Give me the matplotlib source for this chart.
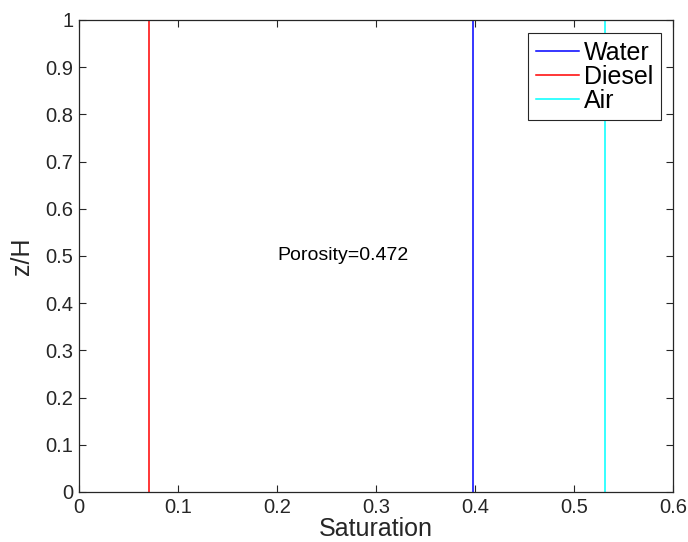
import numpy as np
import matplotlib
matplotlib.use("Agg")
import matplotlib.pyplot as plt

plt.rcParams['font.family'] = ['Liberation Sans', 'DejaVu Sans']

# vertical saturation profiles (constant over depth)
z = [0.0, 1.0]
names = ['Water', 'Diesel', 'Air']
sat = [0.398, 0.071, 0.531]
colors = ['#0000ff', '#ff0000', '#00ffff']
porosity = 0.472

xticks = [0, 0.1, 0.2, 0.3, 0.4, 0.5, 0.6]
xlabels = ['0', '0.1', '0.2', '0.3', '0.4', '0.5', '0.6']
yticks = [0, 0.1, 0.2, 0.3, 0.4, 0.5, 0.6, 0.7, 0.8, 0.9, 1]
ylabels = ['0', '0.1', '0.2', '0.3', '0.4', '0.5', '0.6', '0.7', '0.8', '0.9', '1']

fig = plt.figure(figsize=(6.88, 5.42), dpi=100)
ax = fig.add_axes([0.1148, 0.0923, 0.8634, 0.8708])

for s, c, n in zip(sat, colors, names):
    ax.plot([s, s], z, color=c, lw=1.1, label=n)

ax.text(0.2, 0.5, 'Porosity={}'.format(porosity), fontsize=14, ha='left', va='center')

ax.set_xlim(0, 0.6)
ax.set_ylim(0, 1)
ax.set_xticks(xticks)
ax.set_xticklabels(xlabels)
ax.set_yticks(yticks)
ax.set_yticklabels(ylabels)
ax.tick_params(direction='in', length=5, width=0.8, colors='#262626', labelsize=14.5,
               top=True, right=True, pad=4)
for sp in ax.spines.values():
    sp.set_color('#262626')
    sp.set_linewidth(0.9)

ax.set_xlabel('Saturation', fontsize=18, color='#262626', labelpad=0)
ax.set_ylabel('z/H', fontsize=18, color='#262626', labelpad=8)

leg = ax.legend(loc='upper right', bbox_to_anchor=(0.98, 0.972), fontsize=18,
                handlelength=1.75, handletextpad=0.2, labelspacing=0.0,
                borderpad=0.3, borderaxespad=0, fancybox=False, framealpha=1)
leg.get_frame().set_edgecolor('#262626')
leg.get_frame().set_linewidth(0.8)

plt.savefig('out.png', dpi=100)
